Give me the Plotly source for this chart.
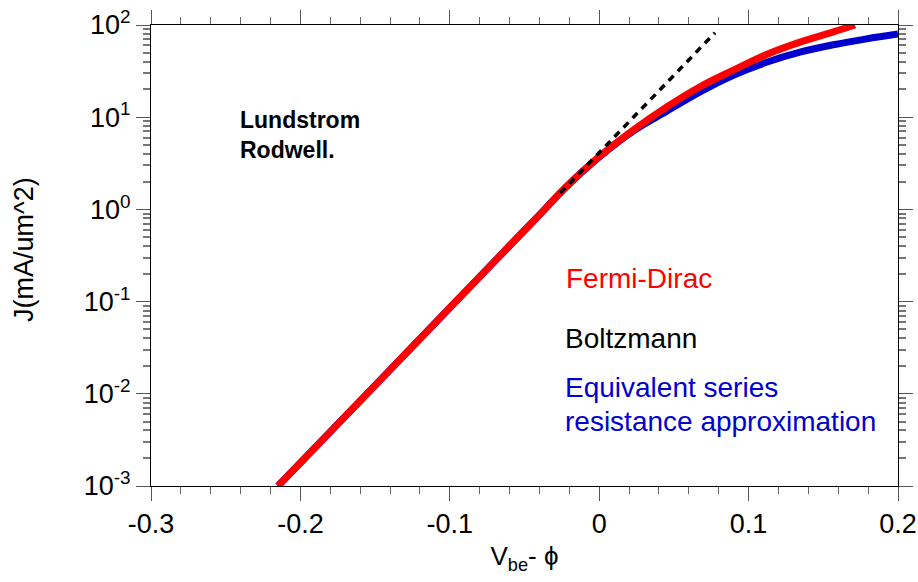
import plotly.graph_objects as go

# ---- data ----
fd_x = [-0.215, -0.15, -0.1, -0.06, -0.04, -0.022, 0.0, 0.0228, 0.0452, 0.0675, 0.0898, 0.112, 0.1344, 0.1567, 0.1712]
fd_j = [0.001, 0.01236, 0.0857, 0.403, 0.873, 1.76, 3.73, 7.24, 12.9, 21.4, 32.4, 47.9, 65.3, 84.1, 100.0]

esr_x = [-0.215, -0.15, -0.1, -0.06, -0.04, -0.022, 0.0, 0.0228, 0.0452, 0.0675, 0.0898, 0.112, 0.1344, 0.1567, 0.179, 0.2]
esr_j = [0.001, 0.01236, 0.0857, 0.403, 0.873, 1.76, 3.7, 7.08, 11.6, 18.8, 28.5, 39.4, 50.7, 61.0, 70.8, 79.8]

boltz_x = [-0.026, 0.0775]
boltz_j = [1.51, 82.4]

x_tick_vals = [-0.3, -0.2, -0.1, 0.0, 0.1, 0.2]
x_tick_text = ["-0.3", "-0.2", "-0.1", "0", "0.1", "0.2"]
x_minor_vals = [-0.28, -0.26, -0.24, -0.22, -0.18, -0.16, -0.14, -0.12,
                -0.08, -0.06, -0.04, -0.02, 0.02, 0.04, 0.06, 0.08,
                0.12, 0.14, 0.16, 0.18]
y_tick_vals = [1e-3, 1e-2, 1e-1, 1e0, 1e1, 1e2]
y_tick_text = ["10<sup>-3</sup>", "10<sup>-2</sup>", "10<sup>-1</sup>",
               "10<sup>0</sup>", "10<sup>1</sup>", "10<sup>2</sup>"]
y_minor_vals = [m * 10.0 ** e for e in range(-3, 2) for m in range(2, 10)]

FONT = "Liberation Sans, Arial, sans-serif"

fig = go.Figure()
fig.add_trace(go.Scatter(x=esr_x, y=esr_j, mode="lines",
                         line=dict(color="#0000cc", width=7, shape="spline"),
                         showlegend=False))
fig.add_trace(go.Scatter(x=fd_x, y=fd_j, mode="lines",
                         line=dict(color="#ff0000", width=7, shape="spline"),
                         showlegend=False))
fig.add_trace(go.Scatter(x=boltz_x, y=boltz_j, mode="lines",
                         line=dict(color="black", width=3.5, dash="7px,6px"),
                         showlegend=False))

axis_common = dict(
    showline=True, linecolor="black", linewidth=1,
    mirror="allticks", ticks="outside", ticklen=14, tickwidth=1, tickcolor="#555",
    showgrid=False, zeroline=False,
    tickfont=dict(family=FONT, size=27, color="black"),
)

fig.update_xaxes(
    range=[-0.3, 0.2], tickmode="array", tickvals=x_tick_vals, ticktext=x_tick_text,
    minor=dict(tickmode="array", tickvals=x_minor_vals, ticks="outside", ticklen=7,
               tickwidth=1, tickcolor="#666", showgrid=False),
    title=dict(text="V<sub>be</sub>- ϕ", font=dict(family=FONT, size=26, color="black"), standoff=8),
    **axis_common,
)
fig.update_yaxes(
    type="log", range=[-3, 2], tickmode="array", tickvals=y_tick_vals, ticktext=y_tick_text,
    minor=dict(tickmode="array", tickvals=y_minor_vals, ticks="outside", ticklen=7,
               tickwidth=1.5, tickcolor="#777", showgrid=False),
    **axis_common,
)

W, H = 918, 582
ML, MR, MT, MB = 151, 20, 25, 96
PW, PH = W - ML - MR, H - MT - MB

# y-axis title as rotated annotation
fig.add_annotation(
    x=(24 - ML) / PW, y=1 - (250 - MT) / PH, xref="paper", yref="paper",
    xanchor="center", yanchor="middle", textangle=-90, showarrow=False,
    text="J(mA/um^2)", font=dict(family=FONT, size=27, color="black"),
)

ann = [
    dict(x=239, y=129, text="<b>Lundstrom</b>", color="black", size=23),
    dict(x=239, y=159, text="<b>Rodwell.</b>", color="black", size=23),
    dict(x=565, y=289, text="Fermi-Dirac", color="#ff0000", size=28),
    dict(x=564, y=349, text="Boltzmann", color="black", size=28),
    dict(x=564, y=398, text="Equivalent series", color="#0000cc", size=28),
    dict(x=564, y=432, text="resistance approximation", color="#0000cc", size=28),
]
for a in ann:
    px, py = a["x"], a["y"]
    fig.add_annotation(
        x=(px - ML) / PW, y=1 - (py + 0.22 * a["size"] - MT) / PH,
        xref="paper", yref="paper", xanchor="left", yanchor="bottom",
        text=a["text"], showarrow=False,
        font=dict(family=FONT, size=a["size"], color=a["color"]),
        borderpad=0,
    )

fig.update_layout(
    width=W, height=H,
    margin=dict(l=ML, r=MR, t=MT, b=MB, autoexpand=False),
    paper_bgcolor="white", plot_bgcolor="white",
)

fig.write_html("out.html")
